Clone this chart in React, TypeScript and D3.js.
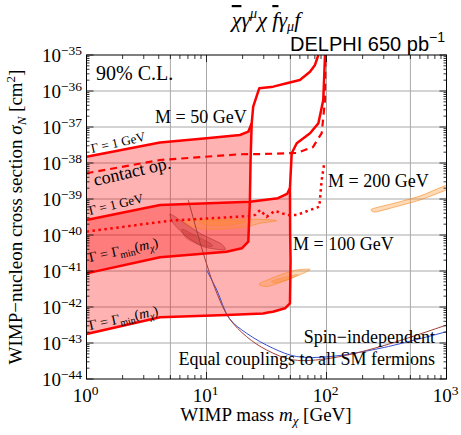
import React from 'react';
import * as d3 from 'd3';

type P = [number, number];

const W = 461, H = 435;
const PL = 86.5, PR = 446.5, PT = 55, PB = 379;

const xDomain: [number, number] = [1, 1000];
const yDomain: [number, number] = [1e-44, 1e-35];
const xTickExps = [0, 1, 2, 3];
const yTickExps = [-35, -36, -37, -38, -39, -40, -41, -42, -43, -44];
const xGridMasses = [5, 10, 50, 100, 500];

// M = 50 GeV, Γ = 1 GeV (upper boundary + resonance spike)
const m50Gamma1: P[] = [[1, 1.5e-38], [4.1, 3.7e-38], [10, 4.85e-38], [19, 6.0e-38], [22.3, 7.4e-38], [23.8, 1.27e-37], [24.5, 3.66e-37], [27.5, 1.19e-36], [36, 1.32e-36], [46.6, 1.64e-36], [60, 2.02e-36], [72.9, 3.44e-36], [80.2, 5.3e-36], [85.5, 1e-35]];
// M = 50 GeV, Γ = Γmin
const m50GammaMin: P[] = [[1, 8.6e-42], [4.1, 2.4e-41], [14.7, 3.44e-41], [19.7, 4.27e-41], [22.3, 6.5e-41], [23.0, 9.4e-40], [23.3, 1.2e-38], [23.8, 1.27e-37]];
// M = 100 GeV, Γ = 1 GeV
const m100Gamma1: P[] = [[1, 2.6e-40], [4.1, 6.8e-40], [23, 8.4e-40], [39.4, 1.05e-39], [46.9, 1.38e-39], [49.6, 2.02e-39], [51.3, 1.86e-38], [56.5, 3.55e-38], [72.9, 6.7e-38], [85.5, 1.26e-37], [94, 5.6e-37], [97.2, 1e-35]];
// M = 100 GeV, Γ = Γmin
const m100GammaMin: P[] = [[1, 1.78e-43], [4.1, 5.2e-43], [14.7, 6.0e-43], [29.7, 6.6e-43], [32.5, 7.0e-43], [35.8, 7.4e-43], [45.1, 9.2e-43], [49.6, 1.27e-42], [50.2, 2.0e-41], [49.8, 1e-40], [49.6, 2.02e-39]];
// contact operator
const contactOp: P[] = [[1, 5.2e-39], [4.1, 1.21e-38], [19, 1.75e-38], [30, 1.78e-38], [56.5, 1.9e-38], [77.2, 2.78e-38], [91.2, 6.8e-38], [97.2, 5.6e-37], [98, 1e-35]];
// M = 200 GeV
const m200: P[] = [[1, 1.24e-40], [4.97, 2.5e-40], [23, 3.37e-40], [25.4, 3.6e-40], [27.9, 4.95e-40], [31.7, 3.2e-40], [37.2, 4.7e-40], [42.3, 4.0e-40], [48, 3.6e-40], [56.5, 3.6e-40], [72.9, 4.95e-40], [87.1, 6.1e-40], [91.2, 3.4e-39], [95.3, 8.8e-39]];
// spin-independent limits
const siBrown: P[] = [[7.05, 9.4e-40], [9.4, 3.1e-41], [12.2, 2.4e-42], [15.5, 4.8e-43], [21.6, 1.5e-43], [31.7, 6.4e-44], [52.9, 3.4e-44], [107, 3.76e-44], [279, 7.9e-44], [1000, 3.16e-43]];
const siBlue: P[] = [[10, 1.07e-41], [12.2, 2.95e-42], [15.5, 4.8e-43], [21.6, 1.86e-43], [36, 7.1e-44], [56.5, 4.2e-44], [107, 4.2e-44], [279, 7.1e-44], [1000, 2.06e-43]];
// signal regions
const orangeBlob1: P[] = [[6.41, 2.34e-40], [7.72, 2.61e-40], [14.7, 2.73e-40], [27.9, 2.73e-40], [38.5, 2.5e-40], [27.9, 2.11e-40], [20.3, 1.64e-40], [10.7, 1.44e-40], [7.72, 1.7e-40]];
const orangeBlob1Inner: P[] = [[8.83, 2.45e-40], [14.3, 2.53e-40], [20.9, 2.3e-40], [14.3, 1.84e-40], [9.7, 1.96e-40]];
const redBlob: P[] = [[4.96, 3.83e-40], [6.02, 2.61e-40], [8.83, 1.11e-40], [13.0, 5.9e-41], [14.3, 4.28e-41], [13.8, 3.83e-41], [9.4, 4.73e-41], [6.84, 8.97e-41], [5.29, 2.11e-40]];
const redBlobInner: P[] = [[6.25, 1.47e-40], [8.18, 9.4e-41], [10.7, 6.0e-41], [11.1, 4.8e-41], [8.83, 5.27e-41], [6.75, 8.26e-41]];
const orangeBlob2: P[] = [[27.9, 4.55e-42], [41.0, 7.75e-42], [56.5, 1.07e-41], [72.9, 1.11e-41], [64.1, 8.6e-42], [46.6, 5.6e-42], [33.8, 3.83e-42], [28.8, 3.83e-42]];
const orangeBlob2Inner: P[] = [[35.1, 5.27e-42], [49.6, 7.26e-42], [57.9, 8.0e-42], [49.6, 6.0e-42], [37.9, 4.64e-42]];
const orangeBand: P[] = [[239, 5.27e-40], [372, 7.75e-40], [601, 1.21e-39], [1000, 2.45e-39], [1200, 3.0e-39], [1200, 2.2e-39], [1000, 1.78e-39], [601, 9.4e-40], [372, 6.0e-40], [254, 4.35e-40]];

const x = d3.scaleLog().domain(xDomain).range([PL, PR]);
const y = d3.scaleLog().domain(yDomain).range([PB, PT]);

const line = d3.line<P>().x(d => x(d[0])).y(d => y(d[1]));
const smooth = d3.line<P>().x(d => x(d[0])).y(d => y(d[1])).curve(d3.curveCatmullRom);
const closed = d3.line<P>().x(d => x(d[0])).y(d => y(d[1])).curve(d3.curveCardinalClosed.tension(0.3));

const serif = '"Liberation Serif", "Times New Roman", serif';
const sans = '"Liberation Sans", Arial, sans-serif';
const RED = '#ff0000';

export default function App() {
  const fill50: P[] = [...m50Gamma1.slice(0, 6), ...m50GammaMin.slice().reverse()];
  const fill100: P[] = [...m100Gamma1.slice(0, 6), ...m100GammaMin.slice().reverse()];

  const xMinor: number[] = [];
  for (let e = 0; e < 3; e++) for (let k = 1; k <= 9; k++) xMinor.push(k * Math.pow(10, e));
  xMinor.push(1000);
  const yMinor: number[] = [];
  for (let e = -44; e < -35; e++) for (let k = 1; k <= 9; k++) yMinor.push(k * Math.pow(10, e));
  yMinor.push(1e-35);

  const rot = (px: number, py: number, a: number) => `rotate(${a} ${px} ${py})`;

  return (
    <svg width={W} height={H} style={{ position: 'absolute', left: 0, top: 0, background: '#fff' }} fontFamily={serif}>
      <defs>
        <clipPath id="plot"><rect x={PL} y={PT} width={PR - PL} height={PB - PT} /></clipPath>
      </defs>
      <rect width={W} height={H} fill="#fff" />
      {/* grid */}
      <g stroke="#a8a8a8" strokeWidth={1}>
        {yTickExps.slice(1, -1).map(e => (
          <line key={e} x1={PL} x2={PR} y1={y(Math.pow(10, e))} y2={y(Math.pow(10, e))} />
        ))}
        {xGridMasses.map(m => (
          <line key={m} y1={PT} y2={PB} x1={x(m)} x2={x(m)} />
        ))}
      </g>
      <g clipPath="url(#plot)">
        <path d={line(fill50) + 'Z'} fill="rgba(255,0,0,0.3)" />
        <path d={line(fill100) + 'Z'} fill="rgba(255,0,0,0.3)" />
        {/* blobs */}
        <path d={closed(orangeBlob1)!} fill="rgba(255,150,50,0.35)" stroke="rgba(245,140,40,0.8)" strokeWidth={0.8} />
        <path d={closed(orangeBlob1Inner)!} fill="rgba(255,140,40,0.35)" stroke="rgba(240,130,40,0.6)" strokeWidth={0.6} />
        <path d={closed(redBlob)!} fill="rgba(180,30,30,0.28)" stroke="rgba(160,40,40,0.6)" strokeWidth={0.8} />
        <path d={closed(redBlobInner)!} fill="rgba(180,30,30,0.25)" stroke="rgba(160,40,40,0.5)" strokeWidth={0.6} />
        <path d={closed(orangeBlob2)!} fill="rgba(255,150,50,0.35)" stroke="rgba(245,140,40,0.8)" strokeWidth={0.8} />
        <path d={closed(orangeBlob2Inner)!} fill="rgba(255,140,40,0.35)" stroke="rgba(240,130,40,0.6)" strokeWidth={0.6} />
        <path d={closed(orangeBand)!} fill="rgba(255,150,50,0.35)" stroke="rgba(245,140,40,0.8)" strokeWidth={0.8} />
        {/* SI limits */}
        <path d={smooth(siBlue)!} fill="none" stroke="#3a4fd0" strokeWidth={1} />
        <path d={smooth(siBrown)!} fill="none" stroke="#a0403a" strokeWidth={1} />
        {/* red contours */}
        <path d={line(m50Gamma1)!} fill="none" stroke={RED} strokeWidth={2.5} strokeLinejoin="round" />
        <path d={line(m50GammaMin)!} fill="none" stroke={RED} strokeWidth={2.5} strokeLinejoin="round" />
        <path d={line(m100Gamma1)!} fill="none" stroke={RED} strokeWidth={2.5} strokeLinejoin="round" />
        <path d={line(m100GammaMin)!} fill="none" stroke={RED} strokeWidth={2.5} strokeLinejoin="round" />
        <path d={line(contactOp)!} fill="none" stroke={RED} strokeWidth={2.2} strokeDasharray="7,5" />
        <path d={line(m200)!} fill="none" stroke={RED} strokeWidth={2.5} strokeDasharray="2.5,3.5" />
      </g>
      {/* frame & ticks */}
      <rect x={PL} y={PT} width={PR - PL} height={PB - PT} fill="none" stroke="#000" strokeWidth={1} />
      <g stroke="#000" strokeWidth={0.8}>
        {xMinor.map((m, i) => {
          const major = Math.abs(Math.log10(m) - Math.round(Math.log10(m))) < 1e-9;
          const L = major ? 7 : 4;
          return (
            <g key={i}>
              <line x1={x(m)} x2={x(m)} y1={PB} y2={PB - L} />
              <line x1={x(m)} x2={x(m)} y1={PT} y2={PT + L} />
            </g>
          );
        })}
        {yMinor.map((v, i) => {
          const major = Math.abs(Math.log10(v) - Math.round(Math.log10(v))) < 1e-9;
          const L = major ? 7 : 3;
          return (
            <g key={i}>
              <line y1={y(v)} y2={y(v)} x1={PL} x2={PL + L} />
              <line y1={y(v)} y2={y(v)} x1={PR} x2={PR - L} />
            </g>
          );
        })}
      </g>
      {/* tick labels */}
      <g fontSize={19} fill="#000">
        {yTickExps.map(e => (
          <text key={e} x={82} y={y(Math.pow(10, e)) + 7} textAnchor="end">
            10<tspan dy={-7} fontSize={13.5}>{'\u2212' + Math.abs(e)}</tspan>
          </text>
        ))}
        {xTickExps.map(e => (
          <text key={e} x={x(Math.pow(10, e)) - 1} y={402} textAnchor="middle">
            10<tspan dy={-7} fontSize={13.5}>{String(e)}</tspan>
          </text>
        ))}
      </g>
      {/* axis labels */}
      <text x={266} y={421} textAnchor="middle" fontSize={19}>
        WIMP mass <tspan fontStyle="italic">m</tspan><tspan fontStyle="italic" fontSize={13} dy={4}>χ</tspan><tspan dy={-4}> [GeV]</tspan>
      </text>
      <text transform={rot(22, 217, -90)} x={22} y={217} textAnchor="middle" fontSize={19}>
        WIMP{'\u2212'}nucleon cross section <tspan fontStyle="italic">σ</tspan><tspan fontStyle="italic" fontSize={13} dy={4}>N</tspan><tspan dy={-4}> [cm</tspan><tspan fontSize={13} dy={-7}>2</tspan><tspan dy={7}>]</tspan>
      </text>
      {/* title */}
      <text x={266} y={27} textAnchor="middle" fontSize={22} fontStyle="italic">
        <tspan style={{ textDecoration: 'overline' }}>χ</tspan>γ<tspan fontSize={14} dy={-9}>μ</tspan><tspan dy={9}>χ </tspan><tspan style={{ textDecoration: 'overline' }}>f</tspan>γ<tspan fontSize={14} dy={4}>μ</tspan><tspan dy={-4}>f</tspan>
      </text>
      <text x={445} y={51} textAnchor="end" fontFamily={sans} fontSize={20}>
        DELPHI 650 pb<tspan fontSize={14} dy={-9}>{'\u2212'}1</tspan>
      </text>
      {/* annotations */}
      <g fontSize={18} fill="#000">
        <text x={96} y={80} fontSize={20}>90% C.L.</text>
        <text x={155} y={123}>M = 50 GeV</text>
        <text x={328} y={187}>M = 200 GeV</text>
        <text x={293} y={250}>M = 100 GeV</text>
        <text x={435} y={343} textAnchor="end">Spin{'\u2212'}independent</text>
        <text x={435} y={365} textAnchor="end">Equal couplings to all SM fermions</text>
        <text x={95} y={186} transform={rot(95, 186, -13)}>contact op.</text>
      </g>
      <g fontSize={13} fill="#000">
        <text x={92} y={153} transform={rot(92, 153, -13)}>Γ = 1 GeV</text>
        <text x={90} y={215} transform={rot(90, 215, -13.5)}>Γ = 1 GeV</text>
      </g>
      <g fontSize={14} fill="#000">
        <text x={90} y={262} transform={rot(90, 262, -12.5)}>
          Γ = Γ<tspan fontSize={10} dy={3}>min</tspan><tspan dy={-3}>(</tspan><tspan fontStyle="italic">m</tspan><tspan fontStyle="italic" fontSize={10} dy={3}>χ</tspan><tspan dy={-3}>)</tspan>
        </text>
        <text x={90} y={330} transform={rot(90, 330, -12.5)}>
          Γ = Γ<tspan fontSize={10} dy={3}>min</tspan><tspan dy={-3}>(</tspan><tspan fontStyle="italic">m</tspan><tspan fontStyle="italic" fontSize={10} dy={3}>χ</tspan><tspan dy={-3}>)</tspan>
        </text>
      </g>
    </svg>
  );
}
